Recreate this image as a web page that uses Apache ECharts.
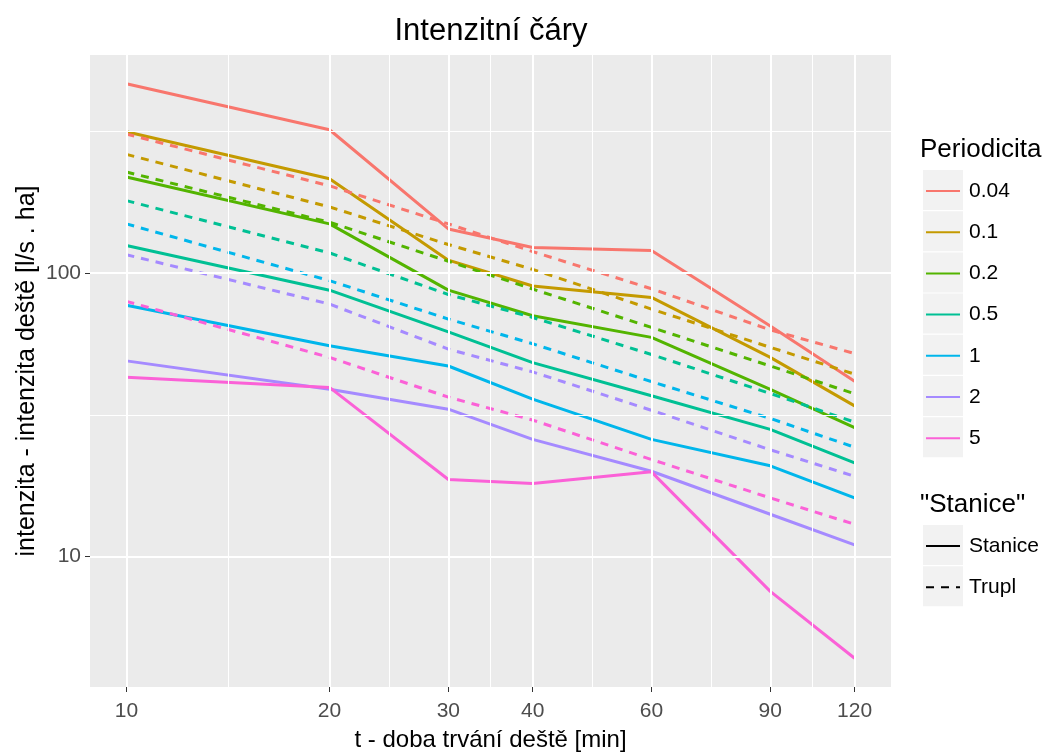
<!DOCTYPE html>
<html>
<head>
<meta charset="utf-8">
<script src="https://cdn.jsdelivr.net/npm/echarts@6/dist/echarts.min.js"></script>
<style>
  html, body { margin: 0; padding: 0; background: #ffffff; }
  #chart { width: 1045px; height: 753px; }
</style>
</head>
<body>
<div id="chart"></div>
<script>
// Rain duration [min] and return periods
const durations = [10, 20, 30, 40, 60, 90, 120];
const periodicities = ['0.04', '0.1', '0.2', '0.5', '1', '2', '5'];
const yTickLabels = [10, 100];

// Intensity [l/s . ha] – station records ("Stanice")
const stanice_004 = [465, 320, 143, 123, 120, 65, 41.5];
const stanice_01  = [315, 215, 111, 90, 82, 50.4, 34];
const stanice_02  = [218, 149, 87, 70.7, 59.3, 38.9, 28.5];
const stanice_05  = [125, 87, 62, 48.3, 36.9, 28.1, 21.4];
const stanice_1   = [77, 55.4, 47, 35.9, 25.9, 20.9, 16.1];
const stanice_2   = [49, 38.9, 33.1, 25.9, 20, 14.1, 11.0];
const stanice_5   = [42.9, 39.5, 18.7, 18.1, 19.9, 7.54, 4.38];

// Intensity [l/s . ha] – Trupl tables
const trupl_004 = [309, 203, 149, 119, 88, 63, 52];
const trupl_01  = [262, 171, 126, 103, 74.6, 54.7, 44];
const trupl_02  = [227, 151, 110, 87.8, 64.3, 47, 37.5];
const trupl_05  = [180, 117.7, 84, 69.7, 51.6, 37.6, 29.8];
const trupl_1   = [149, 94, 68.8, 56.3, 41.4, 30.7, 24.3];
const trupl_2   = [116, 77.7, 53.9, 44.8, 32.8, 23.8, 19.2];
const trupl_5   = [79.4, 50.4, 36.5, 30.3, 22, 16.1, 13];

const stanice = [stanice_004, stanice_01, stanice_02, stanice_05, stanice_1, stanice_2, stanice_5];
const trupl = [trupl_004, trupl_01, trupl_02, trupl_05, trupl_1, trupl_2, trupl_5];

const colors = ['#F8766D', '#C49A00', '#53B400', '#00C094', '#00B6EB', '#A58AFF', '#FB61D7'];
const FONT = '"Liberation Sans", Arial, sans-serif';
const LINE_W = 3;
const DASH = [8, 7];

// log-scale limits with 5 % padding on each side
function paddedLogRange(lo, hi) {
  const a = Math.log10(lo), b = Math.log10(hi), p = (b - a) * 0.05;
  return [Math.pow(10, a - p), Math.pow(10, b + p)];
}
const allVals = stanice.concat(trupl).flat();
const [xMin, xMax] = paddedLogRange(Math.min(...durations), Math.max(...durations));
const [yMin, yMax] = paddedLogRange(Math.min(...allVals), Math.max(...allVals));

// grid lines: major at breaks, minor halfway (in log space) between them
const yBreaks = [1, 10, 100, 1000];
function midpoints(b) {
  const out = [];
  for (let i = 0; i < b.length - 1; i++) out.push(Math.sqrt(b[i] * b[i + 1]));
  return out;
}
const inX = v => v >= xMin && v <= xMax;
const inY = v => v >= yMin && v <= yMax;
const gridLines = []
  .concat(midpoints(durations).filter(inX).map(v => ({ xAxis: v, lineStyle: { width: 1 } })))
  .concat(midpoints(yBreaks).filter(inY).map(v => ({ yAxis: v, lineStyle: { width: 1 } })))
  .concat(durations.filter(inX).map(v => ({ xAxis: v, lineStyle: { width: 2 } })))
  .concat(yBreaks.filter(inY).map(v => ({ yAxis: v, lineStyle: { width: 2 } })));

const series = [{
  name: '__grid',
  type: 'line',
  data: [],
  silent: true,
  z: 1,
  markLine: {
    silent: true,
    symbol: 'none',
    animation: false,
    label: { show: false },
    emphasis: { disabled: true },
    lineStyle: { color: '#FFFFFF', type: 'solid', opacity: 1 },
    data: gridLines
  }
}];

// station lines first, Trupl dashed lines drawn on top
periodicities.forEach((p, i) => {
  series.push({
    name: p, type: 'line', symbol: 'none', z: 2,
    color: colors[i],
    lineStyle: { width: LINE_W, type: 'solid', color: colors[i] },
    data: durations.map((t, k) => [t, stanice[i][k]])
  });
});
periodicities.forEach((p, i) => {
  series.push({
    name: p, type: 'line', symbol: 'none', z: 3,
    color: colors[i],
    lineStyle: { width: LINE_W, type: DASH, color: colors[i] },
    data: durations.map((t, k) => [t, trupl[i][k]])
  });
});
// entries for the line-type legend
series.push({ name: 'Stanice', type: 'line', symbol: 'none', color: '#000', lineStyle: { width: LINE_W, type: 'solid', color: '#000' }, data: [] });
series.push({ name: 'Trupl', type: 'line', symbol: 'none', color: '#000', lineStyle: { width: LINE_W, type: DASH, color: '#000' }, data: [] });

// legend key layout: 40 px keys on a 41.2 px pitch
const KEY_STEP = 41.2;
const KEY_TOP_1 = 170;
const KEY_TOP_2 = 525;
const keyRects = [];
periodicities.forEach((p, i) => keyRects.push({ type: 'rect', z: 1, shape: { x: 923, y: KEY_TOP_1 + i * KEY_STEP, width: 40, height: 40 }, style: { fill: '#F2F2F2' } }));
['Stanice', 'Trupl'].forEach((p, i) => keyRects.push({ type: 'rect', z: 1, shape: { x: 923, y: KEY_TOP_2 + i * KEY_STEP, width: 40, height: 40 }, style: { fill: '#F2F2F2' } }));

// the hidden legend symbol is 0.8 * itemHeight tall and sets each item's box
const ITEM_H = 40;
const SYM_H = ITEM_H * 0.8;
const legendCommon = {
  orient: 'vertical', left: 925, padding: 0,
  itemWidth: 34, itemHeight: ITEM_H, itemGap: KEY_STEP - SYM_H,
  itemStyle: { opacity: 0 },
  textStyle: { fontFamily: FONT, fontSize: 21, color: '#000', padding: [0, 0, 0, 4] },
  inactiveColor: '#ccc'
};

const option = {
  animation: false,
  textStyle: { fontFamily: FONT },
  title: [
    { text: 'Intenzitní čáry', left: 491, top: 15, padding: 0, textAlign: 'center',
      textStyle: { fontFamily: FONT, fontSize: 31, fontWeight: 'normal', color: '#000', lineHeight: 32 } },
    { text: 'Periodicita', left: 920, top: 137, padding: 0,
      textStyle: { fontFamily: FONT, fontSize: 26, fontWeight: 'normal', color: '#000', lineHeight: 26 } },
    { text: '"Stanice"', left: 920, top: 492, padding: 0,
      textStyle: { fontFamily: FONT, fontSize: 26, fontWeight: 'normal', color: '#000', lineHeight: 26 } }
  ],
  legend: [
    Object.assign({}, legendCommon, { top: KEY_TOP_1 + 1 + (ITEM_H - SYM_H) / 2, data: periodicities }),
    Object.assign({}, legendCommon, { top: KEY_TOP_2 + 1 + (ITEM_H - SYM_H) / 2, data: ['Stanice', 'Trupl'] })
  ],
  graphic: keyRects,
  grid: {
    left: 90, right: 154, top: 55, bottom: 66,
    show: true, backgroundColor: '#EBEBEB', borderWidth: 0,
    containLabel: false,
    outerBoundsMode: 'none'
  },
  xAxis: {
    type: 'log', logBase: 10, min: xMin, max: xMax,
    name: 't - doba trvání deště [min]', nameLocation: 'middle', nameGap: 41,
    nameTextStyle: { fontFamily: FONT, fontSize: 24, color: '#000' },
    axisLine: { show: false },
    axisTick: { show: true, length: 5, lineStyle: { color: '#333333', width: 1 }, customValues: durations },
    axisLabel: { fontFamily: FONT, fontSize: 21, color: '#4D4D4D', margin: 14, customValues: durations },
    splitLine: { show: false },
    minorSplitLine: { show: false }
  },
  yAxis: {
    type: 'log', logBase: 10, min: yMin, max: yMax,
    name: 'intenzita - intenzita deště [l/s . ha]', nameLocation: 'middle', nameGap: 50,
    nameMoveOverlap: false,
    nameTextStyle: { fontFamily: FONT, fontSize: 25, color: '#000' },
    axisLine: { show: false },
    axisTick: { show: true, length: 5, lineStyle: { color: '#333333', width: 1 }, customValues: yTickLabels },
    axisLabel: { fontFamily: FONT, fontSize: 21, color: '#4D4D4D', margin: 9, customValues: yTickLabels },
    splitLine: { show: false },
    minorSplitLine: { show: false }
  },
  series: series
};

const chart = echarts.init(document.getElementById('chart'));
chart.setOption(option);
</script>
</body>
</html>
